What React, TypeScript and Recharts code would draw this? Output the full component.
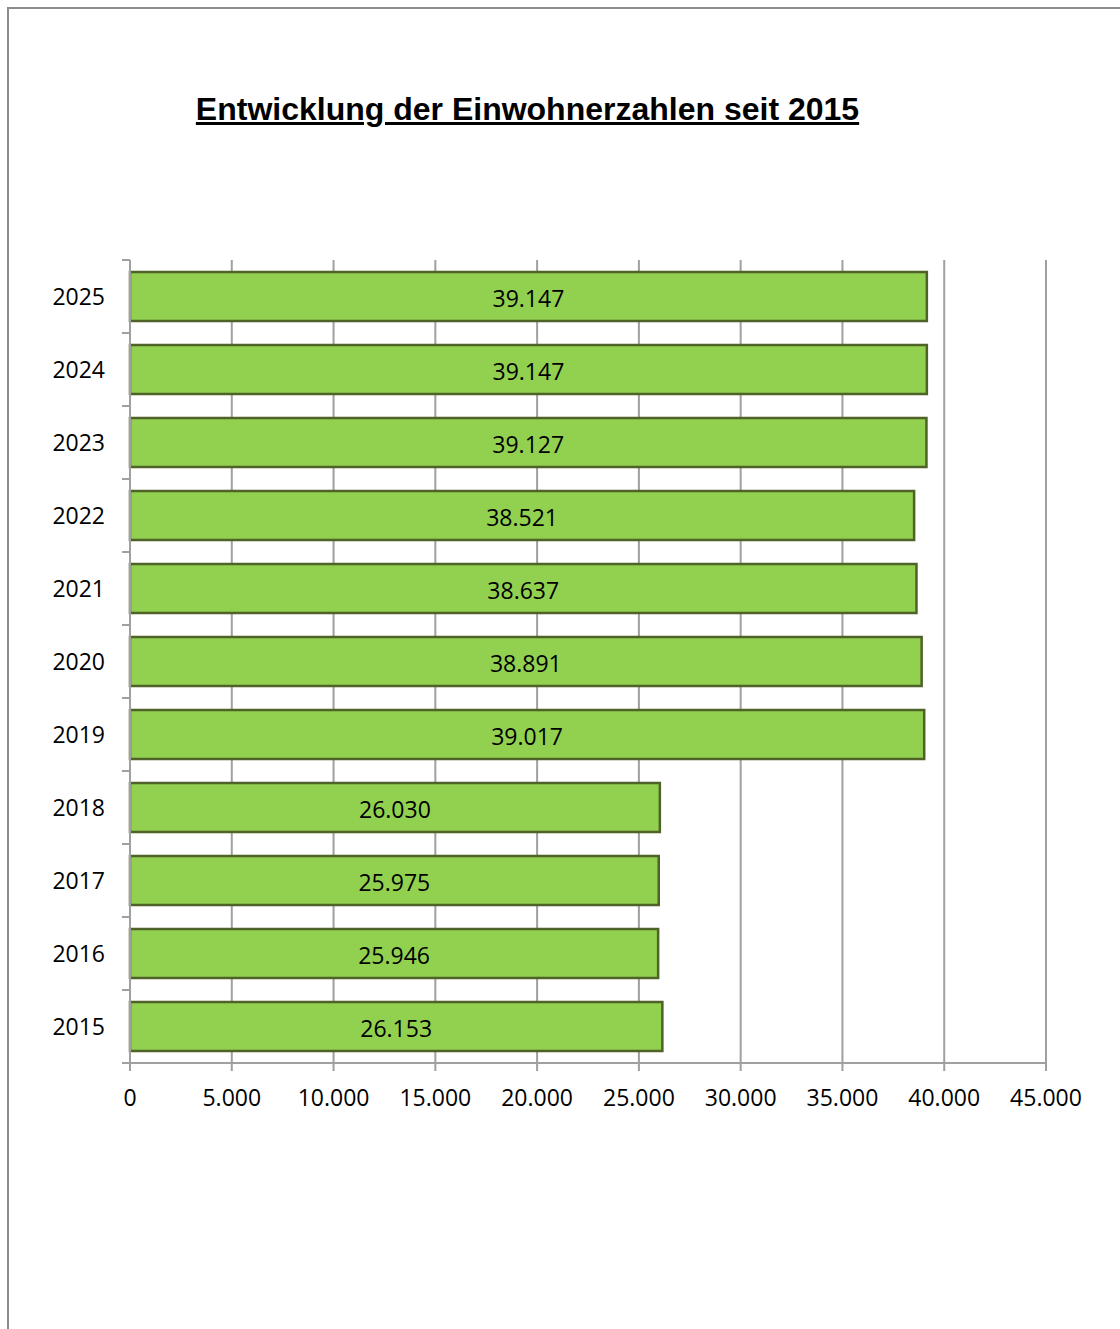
import React from "react";
import { BarChart, Bar, XAxis, YAxis, CartesianGrid, LabelList } from "recharts";

// Einwohnerzahlen (chronologisch)
const years = ["2015", "2016", "2017", "2018", "2019", "2020", "2021", "2022", "2023", "2024", "2025"];
const residents = [26153, 25946, 25975, 26030, 39017, 38891, 38637, 38521, 39127, 39147, 39147];
const xTicks = [0, 5000, 10000, 15000, 20000, 25000, 30000, 35000, 40000, 45000];

const data = years
    .map((year, i) => ({ year, value: residents[i] }))
    .reverse();

const fmt = (v: number) => v.toLocaleString("de-DE");

const W = 1120;
const H = 1329;
const PLOT_TOP = 260;
const PLOT_BOTTOM = 1063;
const BAND = (PLOT_BOTTOM - PLOT_TOP) / years.length;
const AXIS_GRAY = "#a0a0a0";
const FONT = "'Open Sans', sans-serif";

function YearTick(props: any) {
    const { x, y, payload, index } = props;
    const axisX = x + 25;
    const last = index === years.length - 1;
    return (
        <g>
            <line x1={axisX - 8} x2={axisX} y1={y - BAND / 2} y2={y - BAND / 2} stroke={AXIS_GRAY} strokeWidth={2} />
            {last && (
                <line x1={axisX - 8} x2={axisX} y1={y + BAND / 2} y2={y + BAND / 2} stroke={AXIS_GRAY} strokeWidth={2} />
            )}
            <text x={x} y={y} dy={8} textAnchor="end" fill="#000" fontSize={23} fontFamily={FONT}>
                {payload.value}
            </text>
        </g>
    );
}

export default function App() {
    return (
        <div style={{ position: "absolute", left: 0, top: 0, width: W, height: H, overflow: "hidden", background: "#fff" }}>
            <div
                style={{
                    position: "absolute",
                    left: 7,
                    top: 7,
                    width: W + 20,
                    height: H + 20,
                    border: "2px solid #8c8c8c",
                    boxSizing: "border-box",
                }}
            />
            <div
                style={{
                    position: "absolute",
                    left: 0,
                    width: 1055,
                    top: 91,
                    textAlign: "center",
                    fontFamily: "'Liberation Sans', Arial, sans-serif",
                    fontWeight: "bold",
                    fontSize: 32,
                    lineHeight: "36px",
                    textDecoration: "underline",
                    color: "#000",
                }}
            >
                Entwicklung der Einwohnerzahlen seit 2015
            </div>
            <div style={{ position: "absolute", left: 0, top: 0 }}>
                <BarChart
                    width={W}
                    height={H}
                    data={data}
                    layout="vertical"
                    barCategoryGap="16.5%"
                    margin={{ top: PLOT_TOP, right: W - 1046, bottom: H - PLOT_BOTTOM - 40, left: 50 }}
                >
                    <CartesianGrid horizontal={false} vertical stroke={AXIS_GRAY} strokeWidth={2} />
                    <XAxis
                        type="number"
                        domain={[0, 45000]}
                        ticks={xTicks}
                        interval={0}
                        height={40}
                        axisLine={{ stroke: AXIS_GRAY, strokeWidth: 2 }}
                        tickLine={{ stroke: AXIS_GRAY, strokeWidth: 2 }}
                        tickSize={8}
                        tickMargin={19}
                        tickFormatter={(v: number) => fmt(v)}
                        tick={{ fill: "#000", fontSize: 23, fontFamily: FONT }}
                    />
                    <YAxis
                        type="category"
                        dataKey="year"
                        width={80}
                        axisLine={{ stroke: AXIS_GRAY, strokeWidth: 2 }}
                        tickLine={false}
                        tickSize={0}
                        tickMargin={25}
                        interval={0}
                        tick={<YearTick />}
                    />
                    <Bar dataKey="value" fill="#92d050" stroke="#4f6228" strokeWidth={2.5} isAnimationActive={false}>
                        <LabelList
                            dataKey="value"
                            position="center"
                            offset={0}
                            formatter={(v: any) => fmt(Number(v))}
                            fill="#000"
                            fontSize={23}
                            fontFamily={FONT}
                            dy={2}
                        />
                    </Bar>
                </BarChart>
            </div>
        </div>
    );
}
